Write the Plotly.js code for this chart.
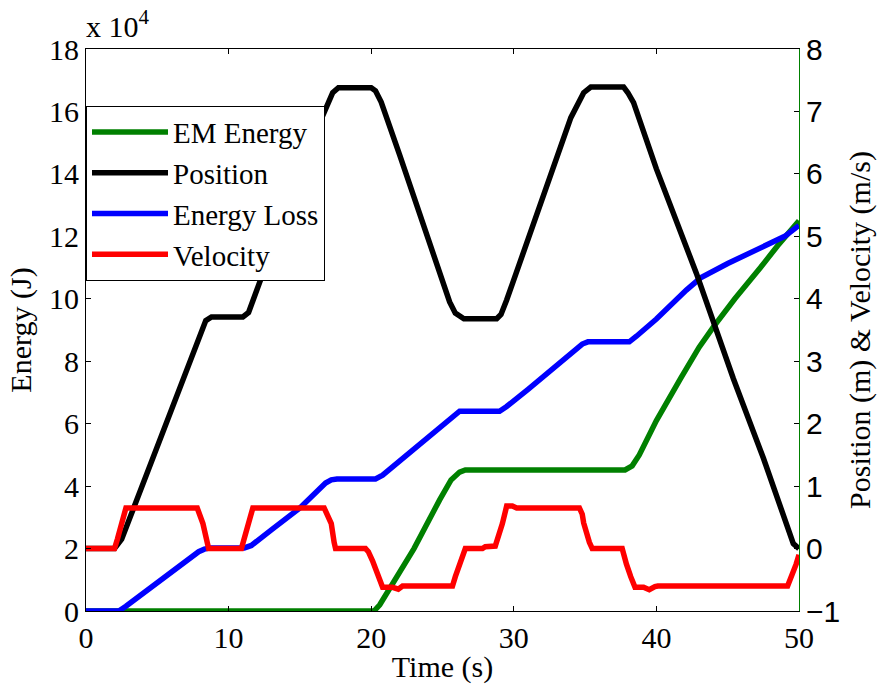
<!DOCTYPE html>
<html>
<head>
<meta charset="utf-8">
<script src="https://cdn.plot.ly/plotly-3.0.1.min.js"></script>
<style>html,body{margin:0;padding:0;background:#fff;}#chart{width:877px;height:687px;}</style>
</head>
<body>
<div id="chart"></div>
<script>
// ---- Data ----
// Position (m), right axis
var posTime = [0, 2.0, 2.5, 3.0, 8.0, 8.4, 8.8, 11.0, 11.4, 11.9, 12.8, 14.0, 15.5, 16.8, 17.3, 17.7, 20.0, 20.3, 20.7, 22.0, 23.5, 25.0, 25.5, 25.9, 26.5, 28.8, 29.1, 29.5, 31.0, 32.5, 34.0, 34.9, 35.4, 37.7, 38.0, 38.4, 40.0, 42.8, 45.4, 47.5, 49.2, 49.6, 50.0];
var posVal  = [0, 0, 0.15, 0.45, 3.45, 3.65, 3.71, 3.71, 3.78, 4.09, 4.6, 5.4, 6.35, 7.07, 7.3, 7.38, 7.38, 7.33, 7.15, 6.3, 5.3, 4.3, 3.95, 3.77, 3.68, 3.68, 3.75, 3.98, 4.95, 5.95, 6.9, 7.3, 7.39, 7.39, 7.3, 7.14, 6.08, 4.41, 2.72, 1.45, 0.3, 0.08, 0.0];

// Velocity (m/s), right axis
var velTime = [0, 2.0, 2.2, 2.4, 2.8, 7.8, 8.0, 8.2, 8.5, 8.6, 10.9, 11.1, 11.4, 11.7, 16.7, 16.9, 17.2, 17.4, 17.5, 19.6, 19.8, 20.1, 20.4, 20.6, 20.8, 21.5, 21.9, 22.2, 25.7, 25.9, 26.3, 26.6, 27.8, 28.0, 28.7, 28.8, 29.2, 29.5, 29.9, 30.2, 34.6, 34.8, 34.9, 35.3, 35.5, 37.6, 37.7, 37.9, 38.2, 38.5, 39.1, 39.5, 39.9, 40.1, 49.2, 49.5, 49.8, 50.0];
var velVal  = [0, 0, 0.15, 0.3, 0.65, 0.65, 0.55, 0.4, 0.1, 0.0, 0.0, 0.15, 0.4, 0.65, 0.65, 0.55, 0.4, 0.1, 0.0, 0.0, -0.05, -0.2, -0.4, -0.55, -0.62, -0.62, -0.65, -0.6, -0.6, -0.45, -0.2, 0.0, 0.0, 0.03, 0.04, 0.1, 0.4, 0.68, 0.68, 0.65, 0.65, 0.55, 0.41, 0.1, 0.0, 0.0, -0.1, -0.25, -0.45, -0.62, -0.62, -0.66, -0.61, -0.6, -0.6, -0.45, -0.25, -0.1];

// Energy Loss (J), left axis
var lossTime = [0, 2.3, 2.8, 5.0, 7.0, 7.9, 8.3, 8.7, 11.1, 11.6, 13.0, 15.0, 16.8, 17.2, 17.6, 20.3, 20.8, 22.5, 24.5, 25.6, 26.2, 29.0, 29.5, 31.0, 33.0, 34.8, 35.2, 38.1, 38.6, 40.0, 42.1, 43.1, 45.0, 47.3, 49.0, 50.0];
var lossVal  = [0, 0, 1500, 9000, 16000, 19000, 19800, 20200, 20200, 21000, 26000, 33000, 41000, 42000, 42300, 42300, 43500, 50000, 57500, 62000, 64000, 64000, 65500, 71000, 78500, 85500, 86200, 86200, 88000, 93500, 102800, 106700, 111300, 116300, 120000, 123500];

// EM Energy (J), left axis
var emTime = [0, 20.2, 20.6, 21.5, 23.0, 24.8, 25.6, 26.2, 26.6, 37.8, 38.3, 38.8, 40.0, 41.7, 43.0, 44.0, 45.5, 47.3, 48.5, 50.0];
var emVal  = [0, 0, 2000, 8500, 20000, 35600, 42000, 44500, 45200, 45200, 46500, 50000, 61000, 74500, 84500, 91000, 100000, 110000, 117000, 125000];

// Tick labels
var energyTickVals = [0, 20000, 40000, 60000, 80000, 100000, 120000, 140000, 160000, 180000];
var energyTickText = ["0", "2", "4", "6", "8", "10", "12", "14", "16", "18"];
var timeTicks = [0, 10, 20, 30, 40, 50];
var rightTicks = [-1, 0, 1, 2, 3, 4, 5, 6, 7, 8];

var serif = "'Liberation Serif', 'Times New Roman', serif";
var sans = "'Liberation Sans', Arial, sans-serif";
var FS = 30;
var LW = 5.5;

var traces = [
  {x: emTime, y: emVal, name: "EM Energy", type: "scatter", mode: "lines", yaxis: "y", line: {color: "#008000", width: LW}},
  {x: posTime, y: posVal, name: "Position", type: "scatter", mode: "lines", yaxis: "y2", line: {color: "#000000", width: LW}},
  {x: lossTime, y: lossVal, name: "Energy Loss", type: "scatter", mode: "lines", yaxis: "y", line: {color: "#0000ff", width: LW}},
  {x: velTime, y: velVal, name: "Velocity", type: "scatter", mode: "lines", yaxis: "y2", line: {color: "#ff0000", width: LW}}
];

var layout = {
  width: 877, height: 687,
  margin: {l: 86, r: 78, t: 49, b: 76, pad: 0},
  paper_bgcolor: "#fff", plot_bgcolor: "#fff",
  showlegend: true,
  legend: {
    x: 0, y: 0.899, xanchor: "left", yanchor: "top",
    bgcolor: "#fff", bordercolor: "#000", borderwidth: 1,
    font: {family: serif, size: 29, color: "#000"},
    itemwidth: 76, traceorder: "normal", tracegroupgap: 0
  },
  xaxis: {
    range: [0, 50], tickvals: timeTicks, ticks: "inside", ticklen: 5, tickcolor: "#000",
    showline: true, linecolor: "#000", linewidth: 1, mirror: "ticks",
    showgrid: false, zeroline: false,
    tickfont: {family: serif, size: FS, color: "#000"},
    title: {text: "Time (s)", font: {family: serif, size: FS, color: "#000"}, standoff: 2}
  },
  yaxis: {
    range: [0, 180000], tickvals: energyTickVals, ticktext: energyTickText,
    ticks: "inside", ticklen: 5, tickcolor: "#000",
    showline: true, linecolor: "#000", linewidth: 1,
    showgrid: false, zeroline: false,
    tickfont: {family: serif, size: FS, color: "#000"},
    title: {text: "Energy (J)", font: {family: serif, size: FS, color: "#000"}, standoff: 8}
  },
  yaxis2: {
    overlaying: "y", side: "right", range: [-1, 8], tickvals: rightTicks,
    ticks: "inside", ticklen: 5, tickcolor: "#000",
    showline: true, linecolor: "#008000", linewidth: 1,
    showgrid: false, zeroline: false,
    tickfont: {family: sans, size: FS, color: "#000"},
    title: {text: "Position (m) & Velocity (m/s)", font: {family: serif, size: FS, color: "#000"}, standoff: 12}
  },
  annotations: [{
    xref: "paper", yref: "paper", x: 0, y: 1, xanchor: "left", yanchor: "bottom",
    yshift: 4, xshift: -2, showarrow: false,
    text: "x 10<sup>4</sup>", font: {family: serif, size: FS, color: "#000"}
  }]
};

Plotly.newPlot("chart", traces, layout, {displayModeBar: false, staticPlot: true});
</script>
</body>
</html>
